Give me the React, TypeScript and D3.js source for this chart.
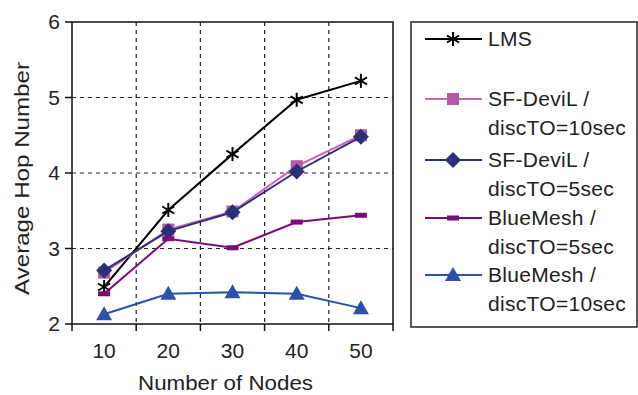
import React from "react";
import * as d3 from "d3";

const categories = ["10", "20", "30", "40", "50"];
const lms = [2.49, 3.51, 4.25, 4.97, 5.22];
const sfDevil10 = [2.68, 3.25, 3.49, 4.09, 4.5];
const sfDevil5 = [2.71, 3.23, 3.48, 4.02, 4.48];
const blueMesh5 = [2.4, 3.13, 3.01, 3.35, 3.44];
const blueMesh10 = [2.13, 2.4, 2.42, 2.4, 2.21];
const yTicks = [2, 3, 4, 5, 6];

const seriesNames = ["LMS", "SF-DeviL /|discTO=10sec", "SF-DeviL /|discTO=5sec", "BlueMesh /|discTO=5sec", "BlueMesh /|discTO=10sec"];
const seriesColors = ["#000000", "#c868b8", "#2b2f78", "#7a0a78", "#2a52a8"];
const markerColors = ["#000000", "#b45aa8", "#2b2f78", "#7a0a78", "#2a52a8"];
const markerTypes = ["star", "square", "diamond", "dash", "triangle"];

const FONT = "Liberation Sans, Arial, sans-serif";

function Marker({ type, x, y, color }: { type: string; x: number; y: number; color: string }) {
  if (type === "star") {
    const r = 7;
    return (
      <g>
        {[0, 60, 120].map((a) => {
          const rad = (a * Math.PI) / 180 + Math.PI / 2;
          return (
            <line key={a} x1={x - r * Math.cos(rad)} y1={y - r * Math.sin(rad)} x2={x + r * Math.cos(rad)} y2={y + r * Math.sin(rad)} stroke={color} strokeWidth={2} />
          );
        })}
      </g>
    );
  }
  if (type === "square") return <rect x={x - 6} y={y - 6} width={12} height={12} fill={color} />;
  if (type === "diamond") return <path d={`M${x},${y - 8}L${x + 8},${y}L${x},${y + 8}L${x - 8},${y}Z`} fill={color} />;
  if (type === "dash") return <rect x={x - 6} y={y - 2.5} width={12} height={5} fill={color} />;
  return <path d={`M${x},${y - 8}L${x + 8},${y + 6}L${x - 8},${y + 6}Z`} fill={color} />;
}

export default function App() {
  const W = 638, H = 395;
  const left = 72, right = 393, top = 22, bottom = 324;
  const x = d3.scaleBand<string>().domain(categories).range([left, right]).padding(0);
  const y = d3.scaleLinear().domain([2, 6]).range([bottom, top]);
  const allSeries = [lms, sfDevil10, sfDevil5, blueMesh5, blueMesh10];
  const line = d3
    .line<number>()
    .x((_, i) => (x(categories[i]) as number) + x.bandwidth() / 2)
    .y((d) => y(d));
  const boundaries = categories.map((c) => x(c) as number).concat([right]);

  const legendRows = [39, 99, 160, 218, 275];

  return (
    <svg width={W} height={H} style={{ position: "absolute", left: 0, top: 0 }} fontFamily={FONT}>
      <rect x={0} y={0} width={W} height={H} fill="#fff" />
      {yTicks.slice(1, -1).map((t) => (
        <line key={"h" + t} x1={left} x2={right} y1={y(t)} y2={y(t)} stroke="#222" strokeWidth={1.2} strokeDasharray="4,4" />
      ))}
      {boundaries.slice(1, -1).map((b, i) => (
        <line key={"v" + i} x1={b} x2={b} y1={top} y2={bottom} stroke="#222" strokeWidth={1.2} strokeDasharray="4,4" />
      ))}
      <rect x={left} y={top} width={right - left} height={bottom - top} fill="none" stroke="#111" strokeWidth={1.5} />
      {yTicks.map((t) => (
        <g key={"yt" + t}>
          <line x1={left - 7} x2={left} y1={y(t)} y2={y(t)} stroke="#111" strokeWidth={1.5} />
          <text x={left - 12} y={y(t)} dy="0.35em" textAnchor="end" fontSize={21} fill="#222">
            {t}
          </text>
        </g>
      ))}
      {boundaries.map((b, i) => (
        <line key={"xt" + i} x1={b} x2={b} y1={bottom} y2={bottom + 7} stroke="#111" strokeWidth={1.5} />
      ))}
      {categories.map((c) => (
        <text key={"xl" + c} x={(x(c) as number) + x.bandwidth() / 2} y={351} dy="0.35em" textAnchor="middle" fontSize={21} fill="#222">
          {c}
        </text>
      ))}
      <text x={225.5} y={383} dy="0.35em" textAnchor="middle" fontSize={21} fill="#222" textLength={175} lengthAdjust="spacingAndGlyphs">
        Number of Nodes
      </text>
      <text transform={`translate(22,178.5) rotate(-90)`} dy="0.35em" textAnchor="middle" fontSize={21} fill="#222" textLength={233} lengthAdjust="spacingAndGlyphs">
        Average Hop Number
      </text>
      {allSeries.map((s, si) => (
        <g key={"s" + si}>
          <path d={line(s) || ""} fill="none" stroke={seriesColors[si]} strokeWidth={2} />
          {s.map((v, i) => (
            <Marker key={i} type={markerTypes[si]} x={(x(categories[i]) as number) + x.bandwidth() / 2} y={y(v)} color={markerColors[si]} />
          ))}
        </g>
      ))}
      <rect x={411} y={22} width={226} height={305} fill="#fff" stroke="#222" strokeWidth={1.5} />
      {seriesNames.map((n, i) => {
        const ly = legendRows[i];
        const parts = n.split("|");
        return (
          <g key={"lg" + i}>
            <line x1={425} x2={482} y1={ly} y2={ly} stroke={seriesColors[i]} strokeWidth={2} />
            <Marker type={markerTypes[i]} x={453} y={ly} color={markerColors[i]} />
            {parts.map((p, pi) => (
              <text key={pi} x={488} y={ly + pi * 29} dy="0.35em" fontSize={21} letterSpacing={0.3} fill="#222">
                {p}
              </text>
            ))}
          </g>
        );
      })}
    </svg>
  );
}
